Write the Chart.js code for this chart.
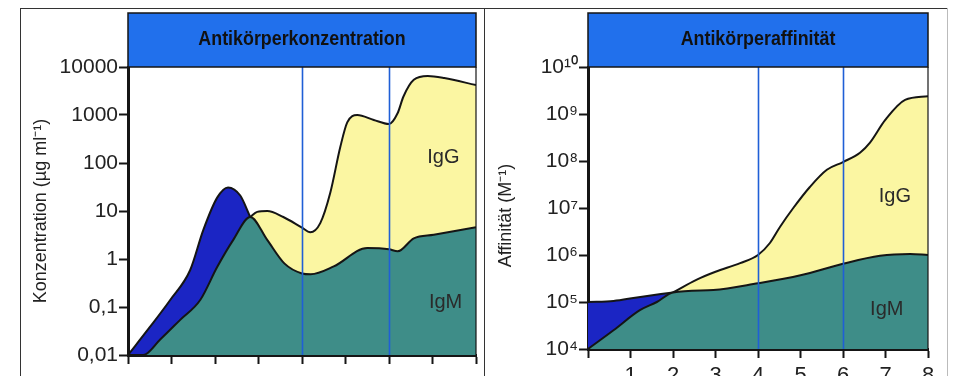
<!DOCTYPE html>
<html>
<head>
<meta charset="utf-8">
<script src="https://cdn.jsdelivr.net/npm/chart.js@4.4.1/dist/chart.umd.min.js"></script>
<style>
    html, body { margin: 0; padding: 0; background: #fff; }
    #wrap { position: relative; width: 953px; height: 376px; overflow: hidden; }
    .frame { position: absolute; background: #333; }
    canvas { position: absolute; top: 0; }
</style>
</head>
<body>
<div id="wrap">
    <div class="frame" style="left:20px;top:8px;width:928px;height:1px"></div>
    <div class="frame" style="left:20px;top:8px;width:1px;height:368px"></div>
    <div class="frame" style="left:484px;top:8px;width:1px;height:368px"></div>
    <div class="frame" style="left:947px;top:8px;width:1px;height:368px;background:#bbb"></div>
    <canvas id="concChart" width="480" height="376" style="left:0"></canvas>
    <canvas id="affChart" width="469" height="376" style="left:484px"></canvas>
</div>
<script>
// ===== Data: antibody concentration (µg/ml, log) =====
const concIgMX = [0, 0.35, 0.74, 1.2, 1.66, 2.05, 2.42, 2.81, 3.2, 3.6, 4.0, 4.2, 4.73, 5.5, 6.0, 6.2, 6.57, 7.03, 8];
const concIgMY = [0.01, 0.01, 0.021, 0.054, 0.14, 0.68, 2.5, 7.5, 2.5, 0.8, 0.5, 0.48, 0.7, 1.7, 1.6, 1.45, 2.7, 3.2, 4.6];
const concEarlyX = [0, 0.5, 0.97, 1.43, 1.73, 2.05, 2.3, 2.58, 2.81];
const concEarlyY = [0.01, 0.038, 0.14, 0.59, 4, 19, 31, 21, 7.5];
const concIgGX = [2.81, 2.97, 3.2, 3.57, 4.0, 4.19, 4.42, 4.65, 4.88, 5.04, 5.27, 5.65, 6.0, 6.2, 6.33, 6.57, 6.89, 7.27, 8];
const concIgGY = [7.5, 9.6, 10, 7.5, 4.5, 3.6, 5.6, 24, 215, 700, 1000, 790, 650, 1100, 2400, 5400, 6500, 5900, 4200];
const concTicks = [0.01, 0.1, 1, 10, 100, 1000, 10000];
const concTickLabels = ['0,01', '0,1', '1', '10', '100', '1000', '10000'];

// ===== Data: antibody affinity (M^-1, log) =====
const affIgMX = [0, 0.6, 1.22, 1.62, 2, 2.95, 4, 5, 6, 6.87, 7.58, 8];
const affIgMY = [1e4, 2.5e4, 6.7e4, 1e5, 1.6e5, 1.8e5, 2.5e5, 3.7e5, 6.5e5, 9.6e5, 1.05e6, 1e6];
const affEarlyX = [0, 0.6, 1.15, 2];
const affEarlyY = [1e5, 1.05e5, 1.25e5, 1.6e5];
const affIgGX = [2, 2.56, 3, 3.58, 4, 4.28, 4.52, 4.83, 5.22, 5.62, 6, 6.4, 6.64, 6.99, 7.46, 8];
const affIgGY = [1.6e5, 3e5, 4.4e5, 6.7e5, 1e6, 1.8e6, 4e6, 1e7, 2.8e7, 6.5e7, 9.5e7, 1.5e8, 2.5e8, 7.4e8, 2e9, 2.4e9];
const affTicks = [1e4, 1e5, 1e6, 1e7, 1e8, 1e9, 1e10];
const affTickLabels = ['10⁴', '10⁵', '10⁶', '10⁷', '10⁸', '10⁹', '10¹⁰'];

const dayTicks = [0, 1, 2, 3, 4, 5, 6, 7, 8];
const dayTickLabels = ['', '1', '2', '3', '4', '5', '6', '7', '8'];
const phaseMarkers = [4, 6];

// ===== Styles =====
const NARROW = "'Liberation Sans Narrow', 'Arial Narrow', 'Liberation Sans', Arial, sans-serif";
const TEAL = '#3e8d88';
const YELLOW = '#fbf6a2';
const DARKBLUE = '#1b25c4';
const HEADBLUE = '#2170ec';
const INK = '#151515';

const toPoints = (xs, ys) => xs.map((x, i) => ({ x: x, y: ys[i] }));

// header box above the plot area
const headerPlugin = {
    id: 'header',
    afterDraw(chart, args, opts) {
        const { ctx, chartArea } = chart;
        ctx.save();
        ctx.fillStyle = HEADBLUE;
        ctx.fillRect(chartArea.left, 13, chartArea.right - chartArea.left, chartArea.top - 13);
        ctx.strokeStyle = INK;
        ctx.lineWidth = 1.5;
        ctx.strokeRect(chartArea.left, 13, chartArea.right - chartArea.left, chartArea.top - 13);
        ctx.fillStyle = '#111';
        ctx.font = "bold 21px " + NARROW;
        ctx.textAlign = 'center';
        ctx.textBaseline = 'middle';
        ctx.translate((chartArea.left + chartArea.right) / 2, 39);
        ctx.scale(opts.squeeze || 1, 1);
        ctx.fillText(opts.text, 0, 0);
        ctx.restore();
    }
};

// blue phase lines, area names, right edge
const markPlugin = {
    id: 'marks',
    afterDatasetsDraw(chart, args, opts) {
        const { ctx, chartArea, scales } = chart;
        ctx.save();
        ctx.strokeStyle = '#1f5fd6';
        ctx.lineWidth = 1.6;
        phaseMarkers.forEach(d => {
            const px = Math.round(scales.x.getPixelForValue(d)) + 0.5;
            ctx.beginPath();
            ctx.moveTo(px, chartArea.top);
            ctx.lineTo(px, chartArea.bottom);
            ctx.stroke();
        });
        ctx.strokeStyle = INK;
        ctx.lineWidth = 1.2;
        ctx.beginPath();
        ctx.moveTo(chartArea.right, chartArea.top);
        ctx.lineTo(chartArea.right, chartArea.bottom);
        ctx.stroke();
        ctx.fillStyle = '#2a2a2a';
        ctx.font = "20px " + NARROW;
        ctx.textAlign = 'center';
        ctx.textBaseline = 'middle';
        opts.labels.forEach(l => {
            ctx.fillText(l.text, scales.x.getPixelForValue(l.x), scales.y.getPixelForValue(l.y));
        });
        ctx.restore();
    }
};

function makePanel(canvasId, cfg) {
    new Chart(document.getElementById(canvasId).getContext('2d'), {
        type: 'line',
        data: {
            datasets: [
                {
                    label: 'IgM',
                    data: cfg.igm,
                    backgroundColor: TEAL,
                    borderColor: INK,
                    borderWidth: 2,
                    fill: 'start',
                },
                {
                    label: 'IgG',
                    data: cfg.igg,
                    backgroundColor: YELLOW,
                    borderColor: INK,
                    borderWidth: 2,
                    fill: '-1',
                },
                {
                    label: 'früh',
                    data: cfg.early,
                    backgroundColor: DARKBLUE,
                    borderColor: INK,
                    borderWidth: 2,
                    fill: '-2',
                }
            ]
        },
        options: {
            responsive: false,
            animation: false,
            parsing: false,
            elements: {
                point: { radius: 0 },
                line: { cubicInterpolationMode: 'monotone' }
            },
            layout: { padding: { left: 0, right: cfg.padRight, top: 67, bottom: 0 } },
            plugins: {
                legend: { display: false },
                tooltip: { enabled: false },
                header: { text: cfg.title, squeeze: cfg.squeeze },
                marks: { labels: cfg.labels }
            },
            scales: {
                x: {
                    type: 'linear',
                    min: 0,
                    max: 8,
                    afterBuildTicks: s => { s.ticks = dayTicks.map(v => ({ value: v })); },
                    afterFit: s => { s.height = cfg.xHeight; },
                    ticks: {
                        display: cfg.showDays,
                        color: '#222',
                        padding: 5,
                        maxRotation: 0,
                        font: { family: NARROW, size: 22 },
                        callback: (v, i) => dayTickLabels[i]
                    },
                    grid: { drawOnChartArea: false, drawTicks: true, tickLength: 9, tickWidth: 2, color: INK },
                    border: { display: true, width: 3, color: INK }
                },
                y: {
                    type: 'logarithmic',
                    min: cfg.ticks[0],
                    max: cfg.ticks[cfg.ticks.length - 1],
                    afterBuildTicks: s => { s.ticks = cfg.ticks.map(v => ({ value: v })); },
                    afterFit: s => { s.width = cfg.yWidth; },
                    ticks: {
                        color: '#222',
                        padding: 1,
                        font: { family: NARROW, size: 21 },
                        callback: (v, i) => cfg.tickLabels[i]
                    },
                    title: {
                        display: true,
                        text: cfg.yTitle,
                        color: '#222',
                        font: { family: NARROW, size: 18 },
                        padding: { top: cfg.titlePad, bottom: 0 }
                    },
                    grid: { drawOnChartArea: false, drawTicks: true, tickLength: 9, tickWidth: 2, color: INK },
                    border: { display: true, width: 3, color: INK }
                }
            }
        },
        plugins: [headerPlugin, markPlugin]
    });
}

makePanel('concChart', {
    title: 'Antikörperkonzentration',
    squeeze: 0.85,
    yTitle: 'Konzentration (µg ml⁻¹)',
    igm: toPoints(concIgMX, concIgMY),
    igg: toPoints(concIgGX, concIgGY),
    early: toPoints(concEarlyX, concEarlyY),
    ticks: concTicks,
    tickLabels: concTickLabels,
    labels: [{ text: 'IgG', x: 7.25, y: 133 }, { text: 'IgM', x: 7.3, y: 0.125 }],
    yWidth: 128,
    xHeight: 21,
    padRight: 4,
    titlePad: 30,
    showDays: false
});

makePanel('affChart', {
    title: 'Antikörperaffinität',
    squeeze: 0.85,
    yTitle: 'Affinität (M⁻¹)   ',
    igm: toPoints(affIgMX, affIgMY),
    igg: toPoints(affIgGX, affIgGY),
    early: toPoints(affEarlyX, affEarlyY),
    ticks: affTicks,
    tickLabels: affTickLabels,
    labels: [{ text: 'IgG', x: 7.22, y: 1.8e7 }, { text: 'IgM', x: 7.03, y: 6.8e4 }],
    yWidth: 104,
    xHeight: 27,
    padRight: 25,
    titlePad: 11,
    showDays: true
});
</script>
</body>
</html>
